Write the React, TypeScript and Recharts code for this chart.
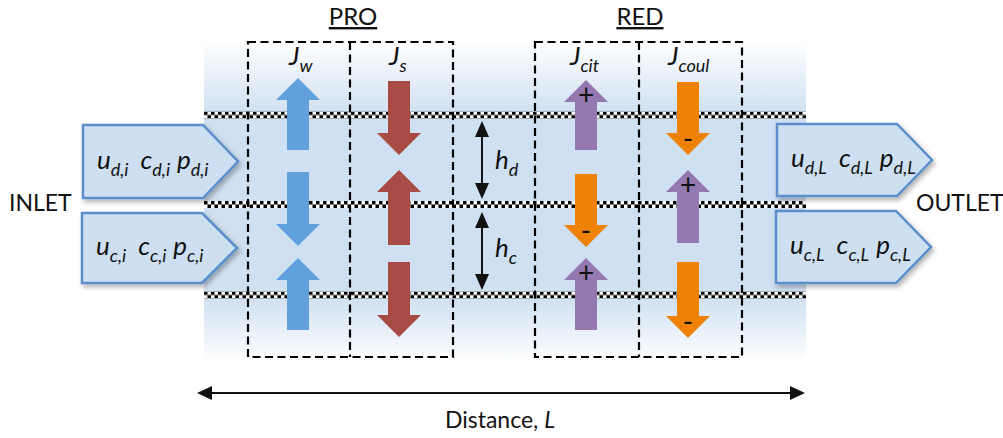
import React from "react";
import { ComposedChart, XAxis, YAxis, ReferenceArea, ReferenceLine, Scatter } from "recharts";

const WIDTH = 1003;
const HEIGHT = 438;

// diagram space uses the picture's own pixel units (y grows downward)
const channelSpan = [204, 806];
const channelFade = [40, 362];
const membraneRows = [115, 204.5, 295];
const processBoxes = [
  [248, 453],
  [535, 742],
];
const boxDividers = [350, 639];
const cellSpan = [42, 357];

type ArrowKind = "w" | "s" | "pos" | "neg";
type FluxArrow = { x: number; tail: number; tip: number; kind: ArrowKind };

const fluxArrows: FluxArrow[] = [
  { x: 298, tail: 150, tip: 78, kind: "w" },
  { x: 298, tail: 172, tip: 246, kind: "w" },
  { x: 298, tail: 330, tip: 258, kind: "w" },
  { x: 399, tail: 81, tip: 155, kind: "s" },
  { x: 399, tail: 245, tip: 170, kind: "s" },
  { x: 399, tail: 262, tip: 337, kind: "s" },
  { x: 586, tail: 150, tip: 80, kind: "pos" },
  { x: 586, tail: 174, tip: 247, kind: "neg" },
  { x: 586, tail: 330, tip: 258, kind: "pos" },
  { x: 688, tail: 82, tip: 155, kind: "neg" },
  { x: 688, tail: 243, tip: 170, kind: "pos" },
  { x: 688, tail: 262, tip: 338, kind: "neg" },
];

const gapArrows = [
  { x: 482, y1: 121, y2: 199 },
  { x: 482, y1: 212, y2: 290 },
];

const distanceArrow = { x1: 197, x2: 805, y: 393 };

type Stream = { x1: number; x2: number; y1: number; y2: number; terms: [string, string][] };
const streams: Stream[] = [
  { x1: 83, x2: 238, y1: 125, y2: 198, terms: [["u", "d,i"], ["c", "d,i"], ["p", "d,i"]] },
  { x1: 82, x2: 237, y1: 213, y2: 283, terms: [["u", "c,i"], ["c", "c,i"], ["p", "c,i"]] },
  { x1: 777, x2: 932, y1: 124, y2: 196, terms: [["u", "d,L"], ["c", "d,L"], ["p", "d,L"]] },
  { x1: 776, x2: 931, y1: 211, y2: 283, terms: [["u", "c,L"], ["c", "c,L"], ["p", "c,L"]] },
];

const titleLabels = [
  { x: 353, y: 25, text: "PRO" },
  { x: 640, y: 25, text: "RED" },
];
const sideLabels = [
  { x: 9, y: 211, text: "INLET" },
  { x: 916, y: 211, text: "OUTLET" },
];
const fluxLabels = [
  { x: 289, y: 65, main: "J", sub: "w" },
  { x: 389, y: 65, main: "J", sub: "s" },
  { x: 570, y: 65, main: "J", sub: "cit" },
  { x: 668, y: 65, main: "J", sub: "coul" },
];
const gapLabels = [
  { x: 495, y: 169, main: "h", sub: "d" },
  { x: 495, y: 257, main: "h", sub: "c" },
];
const axisLabel = [{ x: 500, y: 428, text: "Distance, ", unit: "L" }];

const FONT = "Lato, 'Open Sans', sans-serif";
const INK = "#111111";
const BAND = "#cfe0f2";
const ARROW_COLORS: Record<ArrowKind, string> = {
  w: "#62a0dc",
  s: "#a84b44",
  pos: "#9479b0",
  neg: "#ee8206",
};

function ChannelBand({ x, y, width, height }: any) {
  return (
    <g>
      <defs>
        <linearGradient id="bandFade" x1="0" y1="0" x2="0" y2="1">
          <stop offset="0" stopColor={BAND} stopOpacity={0} />
          <stop offset="0.23" stopColor={BAND} stopOpacity={1} />
          <stop offset="0.8" stopColor={BAND} stopOpacity={1} />
          <stop offset="1" stopColor={BAND} stopOpacity={0} />
        </linearGradient>
        <filter id="softShadow" x="-10%" y="-20%" width="130%" height="150%">
          <feDropShadow dx="2" dy="3" stdDeviation="2.5" floodColor="#000" floodOpacity="0.3" />
        </filter>
      </defs>
      <rect x={x} y={y} width={width} height={height} fill="url(#bandFade)" />
    </g>
  );
}

function Membrane({ x, y, width, height, idx }: any) {
  const c = height / 2;
  const id = `checker-${idx}`;
  return (
    <g>
      <defs>
        <pattern id={id} patternUnits="userSpaceOnUse" x={x} y={y} width={c * 2} height={c * 2}>
          <rect x={0} y={0} width={c * 2} height={c * 2} fill="#fff" />
          <rect x={0} y={0} width={c} height={c} fill="#000" />
          <rect x={c} y={c} width={c} height={c} fill="#000" />
        </pattern>
      </defs>
      <rect x={x} y={y} width={width} height={height} fill={`url(#${id})`} />
    </g>
  );
}

function BlockArrow({ x, y, width, height, up, kind }: any) {
  const cx = x + width / 2;
  const sw = width / 2;
  const hl = 22;
  const pts = up
    ? [
        [cx, y],
        [x + width, y + hl],
        [cx + sw / 2, y + hl],
        [cx + sw / 2, y + height],
        [cx - sw / 2, y + height],
        [cx - sw / 2, y + hl],
        [x, y + hl],
      ]
    : [
        [cx, y + height],
        [x + width, y + height - hl],
        [cx + sw / 2, y + height - hl],
        [cx + sw / 2, y],
        [cx - sw / 2, y],
        [cx - sw / 2, y + height - hl],
        [x, y + height - hl],
      ];
  const sign = kind === "pos" ? "+" : kind === "neg" ? "-" : null;
  const signY = up ? y + 25 : y + height - hl + 16;
  return (
    <g>
      <polygon points={pts.map((p) => p.join(",")).join(" ")} fill={ARROW_COLORS[kind as ArrowKind]} />
      {sign && (
        <text x={cx} y={signY} textAnchor="middle" fontFamily={FONT} fontSize={28} fill={INK}>
          {sign}
        </text>
      )}
    </g>
  );
}

function GapArrow({ x, y, width, height }: any) {
  const cx = x + width / 2;
  const hl = 16;
  const hw = 7;
  return (
    <g fill={INK} stroke="none">
      <line x1={cx} x2={cx} y1={y + hl - 1} y2={y + height - hl + 1} stroke={INK} strokeWidth={2} />
      <polygon points={`${cx},${y} ${cx + hw},${y + hl} ${cx - hw},${y + hl}`} />
      <polygon points={`${cx},${y + height} ${cx + hw},${y + height - hl} ${cx - hw},${y + height - hl}`} />
    </g>
  );
}

function DistanceArrow({ x, y, width, height }: any) {
  const cy = y + height / 2;
  const hl = 15;
  const hw = 7;
  return (
    <g fill={INK}>
      <line x1={x + hl - 1} x2={x + width - hl + 1} y1={cy} y2={cy} stroke={INK} strokeWidth={2} />
      <polygon points={`${x},${cy} ${x + hl},${cy - hw} ${x + hl},${cy + hw}`} />
      <polygon points={`${x + width},${cy} ${x + width - hl},${cy - hw} ${x + width - hl},${cy + hw}`} />
    </g>
  );
}

function StreamBox({ x, y, width, height, terms }: any) {
  const tip = 35;
  const pts = [
    [x, y],
    [x + width - tip, y],
    [x + width, y + height / 2],
    [x + width - tip, y + height],
    [x, y + height],
  ];
  const gaps = [0, 12, 7];
  return (
    <g>
      <polygon
        points={pts.map((p) => p.join(",")).join(" ")}
        fill="#cddff1"
        stroke="#5b8fca"
        strokeWidth={2.5}
        filter="url(#softShadow)"
      />
      <text x={x + 14} y={y + height / 2 + 7} fontFamily={FONT} fontStyle="italic" fontSize={26} fill={INK}>
        {terms.map(([m, s]: [string, string], i: number) => (
          <React.Fragment key={i}>
            <tspan dx={gaps[i]} dy={i === 0 ? 0 : -7}>
              {m}
            </tspan>
            <tspan fontSize={18} dy={7}>
              {s}
            </tspan>
          </React.Fragment>
        ))}
      </text>
    </g>
  );
}

const renderTitle = ({ cx, cy, payload }: any) => (
  <text x={cx} y={cy} textAnchor="middle" fontFamily={FONT} fontSize={24} fill={INK} textDecoration="underline">
    {payload.text}
  </text>
);

const renderSide = ({ cx, cy, payload }: any) => (
  <text x={cx} y={cy} fontFamily={FONT} fontSize={23} fill={INK}>
    {payload.text}
  </text>
);

const renderSymbol = ({ cx, cy, payload }: any) => (
  <text x={cx} y={cy} fontFamily={FONT} fontStyle="italic" fontSize={26} fill={INK}>
    <tspan>{payload.main}</tspan>
    <tspan fontSize={18} dy={7}>
      {payload.sub}
    </tspan>
  </text>
);

const renderAxisLabel = ({ cx, cy, payload }: any) => (
  <text x={cx} y={cy} textAnchor="middle" fontFamily={FONT} fontSize={23} fill={INK}>
    {payload.text}
    <tspan fontStyle="italic">{payload.unit}</tspan>
  </text>
);

export default function App() {
  return (
    <div style={{ position: "absolute", left: 0, top: 0, width: WIDTH, height: HEIGHT, background: "#fff" }}>
      <ComposedChart width={WIDTH} height={HEIGHT} margin={{ top: 0, right: 0, bottom: 0, left: 0 }}>
        <XAxis type="number" dataKey="x" domain={[0, WIDTH]} hide allowDataOverflow />
        <YAxis type="number" dataKey="y" domain={[0, HEIGHT]} reversed hide allowDataOverflow />

        <ReferenceArea
          x1={channelSpan[0]}
          x2={channelSpan[1]}
          y1={channelFade[0]}
          y2={channelFade[1]}
          shape={(p: any) => <ChannelBand {...p} />}
        />
        {membraneRows.map((m, i) => (
          <ReferenceArea
            key={`mem-${i}`}
            x1={channelSpan[0]}
            x2={channelSpan[1]}
            y1={m - 3.5}
            y2={m + 3.5}
            shape={(p: any) => <Membrane {...p} idx={i} />}
          />
        ))}
        {processBoxes.map(([a, b], i) => (
          <ReferenceArea
            key={`box-${i}`}
            x1={a}
            x2={b}
            y1={cellSpan[0]}
            y2={cellSpan[1]}
            fill="none"
            fillOpacity={0}
            stroke="#000"
            strokeWidth={2.2}
            strokeDasharray="8 4.5"
          />
        ))}
        {boxDividers.map((d, i) => (
          <ReferenceLine
            key={`div-${i}`}
            segment={[
              { x: d, y: cellSpan[0] },
              { x: d, y: cellSpan[1] },
            ]}
            stroke="#000"
            strokeWidth={2.2}
            strokeDasharray="8 4.5"
          />
        ))}
        {fluxArrows.map((a, i) => (
          <ReferenceArea
            key={`arrow-${i}`}
            x1={a.x - 22}
            x2={a.x + 22}
            y1={Math.min(a.tail, a.tip)}
            y2={Math.max(a.tail, a.tip)}
            shape={(p: any) => <BlockArrow {...p} up={a.tip < a.tail} kind={a.kind} />}
          />
        ))}
        {gapArrows.map((g, i) => (
          <ReferenceArea
            key={`gap-${i}`}
            x1={g.x - 8}
            x2={g.x + 8}
            y1={g.y1}
            y2={g.y2}
            shape={(p: any) => <GapArrow {...p} />}
          />
        ))}
        {streams.map((s, i) => (
          <ReferenceArea
            key={`stream-${i}`}
            x1={s.x1}
            x2={s.x2}
            y1={s.y1}
            y2={s.y2}
            shape={(p: any) => <StreamBox {...p} terms={s.terms} />}
          />
        ))}
        <ReferenceArea
          x1={distanceArrow.x1}
          x2={distanceArrow.x2}
          y1={distanceArrow.y - 8}
          y2={distanceArrow.y + 8}
          shape={(p: any) => <DistanceArrow {...p} />}
        />

        <Scatter data={titleLabels} shape={renderTitle} isAnimationActive={false} />
        <Scatter data={sideLabels} shape={renderSide} isAnimationActive={false} />
        <Scatter data={fluxLabels} shape={renderSymbol} isAnimationActive={false} />
        <Scatter data={gapLabels} shape={renderSymbol} isAnimationActive={false} />
        <Scatter data={axisLabel} shape={renderAxisLabel} isAnimationActive={false} />
      </ComposedChart>
    </div>
  );
}
